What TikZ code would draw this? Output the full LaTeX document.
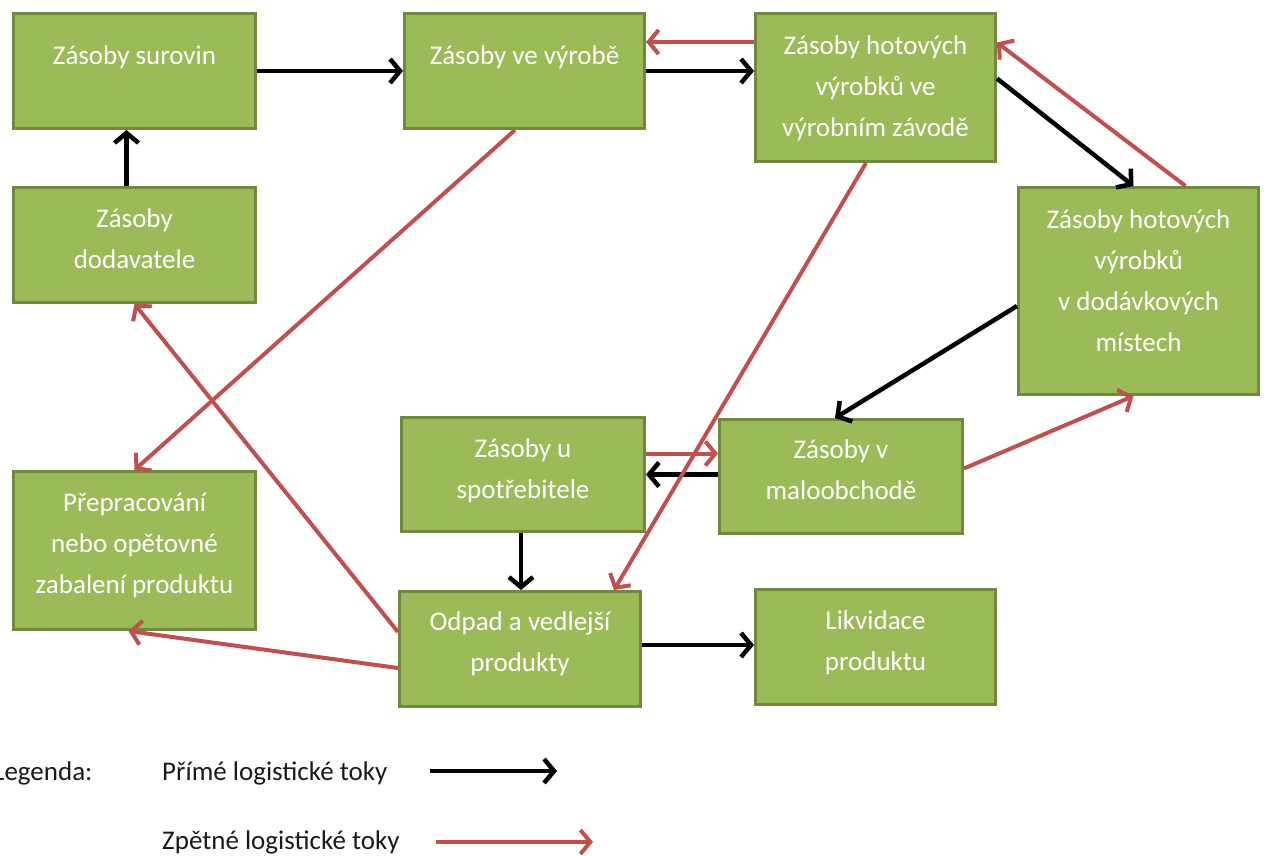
\documentclass[tikz,border=0pt]{standalone}
\usepackage{fontspec}
\setmainfont{Carlito}
\usetikzlibrary{arrows.meta}
\definecolor{boxfill}{HTML}{9BBB59}
\definecolor{boxline}{HTML}{71893F}
\definecolor{backflow}{HTML}{C0504D}
\definecolor{legtext}{HTML}{1A1A1A}

\begin{document}
\begin{tikzpicture}[x=1pt,y=-1pt,
  box/.style={draw=boxline, line width=3pt, fill=boxfill, inner sep=0pt},
  lbl/.style={text=white, align=center, inner sep=0pt,
              font=\fontsize{27}{41}\selectfont},
  leg/.style={text=legtext, inner sep=0pt, font=\fontsize{27}{33}\selectfont},
  fwd/.style={draw=black, line width=4.5pt,
              -{Straight Barb[length=10pt,width=24pt]}},
  back/.style={draw=backflow, line width=4pt,
               -{Straight Barb[length=10pt,width=24pt]}},
]
\useasboundingbox (0,0) rectangle (1268,855);

% boxes
\node[box, minimum width=242pt, minimum height=115pt] (sur) at (134.5,71) {};
\node[box, minimum width=240pt, minimum height=115pt] (vyr) at (524.5,71) {};
\node[box, minimum width=240pt, minimum height=148pt] (zav) at (875.5,87.5) {};
\node[box, minimum width=242pt, minimum height=115pt] (dod) at (134.5,245) {};
\node[box, minimum width=240pt, minimum height=207pt] (mis) at (1138.5,291) {};
\node[box, minimum width=243pt, minimum height=114pt] (spo) at (523,474.5) {};
\node[box, minimum width=243pt, minimum height=114pt] (mal) at (841,476.5) {};
\node[box, minimum width=242pt, minimum height=158pt] (pre) at (134.5,550.5) {};
\node[box, minimum width=241pt, minimum height=115pt] (odp) at (520,649) {};
\node[box, minimum width=240pt, minimum height=115pt] (lik) at (875.5,647) {};

% box labels
\node[lbl] (tsur) at (134.5,57) {Zásoby surovin};
\node[lbl] (tvyr) at (524.5,57) {Zásoby ve výrobě};
\node[lbl] (tzav) at (875.5,88) {Zásoby hotových\\výrobků ve\\výrobním závodě};
\node[lbl] (tdod) at (134.5,238.5) {Zásoby\\dodavatele};
\node[lbl] (tmis) at (1138.5,280.5) {Zásoby hotových\\výrobků\\v dodávkových\\místech};
\node[lbl] (tspo) at (523,470.5) {Zásoby u\\spotřebitele};
\node[lbl] (tmal) at (841,469.5) {Zásoby v\\maloobchodě};
\node[lbl] (tpre) at (134.5,545) {Přepracování\\nebo opětovné\\zabalení produktu};
\node[lbl] (todp) at (520,643.5) {Odpad a vedlejší\\produkty};
\node[lbl] (tlik) at (875.5,643) {Likvidace\\produktu};

% forward flows
\draw[fwd] (sur) -- (vyr);
\draw[fwd] ([xshift=-8pt]dod.north) -- ([xshift=-8pt]sur.south);
\draw[fwd] (vyr.east) -- (vyr.east -| zav.west);
\draw[fwd] ([yshift=9pt]zav.east) -- ([xshift=-5pt]mis.north);
\draw[fwd] ([yshift=-15pt]mis.west) -- ([xshift=-6pt]mal.north);
\draw[fwd] (mal.west |- spo.east) -- (spo.east);
\draw[fwd] ([xshift=-2pt]spo.south) -- ([xshift=-2pt]spo.south |- odp.north);
\draw[fwd] ([yshift=4pt]odp.east) -- ([yshift=4pt]odp.east -| lik.west);

% reverse flows
\draw[back] ([yshift=29pt]vyr.east -| zav.west) -- ([yshift=29pt]vyr.east);
\draw[back] ([xshift=47pt]mis.north) -- ([yshift=45pt]zav.east);
\draw[back] ([yshift=8pt]mal.east) -- ([xshift=-5pt]mis.south);
\draw[back] ([yshift=21pt]spo.east) -- ([yshift=21pt]spo.east -| mal.west);
\draw[back] ([xshift=-9.5pt]zav.south) -- ([xshift=94pt]odp.north);
\draw[back] ([xshift=-9.5pt]vyr.south) -- (pre.north);
\draw[back] ([yshift=17pt]odp.west) -- (dod.south);
\draw[back] ([yshift=-19pt]odp.west) -- ([xshift=-6pt]pre.south);

% legend
\node[leg, anchor=west] (lgd) at (-7,773) {Legenda:};
\node[leg, anchor=west] (lfwd) at (162,773) {Přímé logistické toky};
\node[leg, anchor=west] (lback) at (162,842) {Zpětné logistické toky};
\coordinate (f1) at (430,771);
\coordinate (f2) at (557,771);
\coordinate (b1) at (436,842);
\coordinate (b2) at (593,842);
\draw[fwd] (f1) -- (f2);
\draw[back] (b1) -- (b2);
\end{tikzpicture}
\end{document}
